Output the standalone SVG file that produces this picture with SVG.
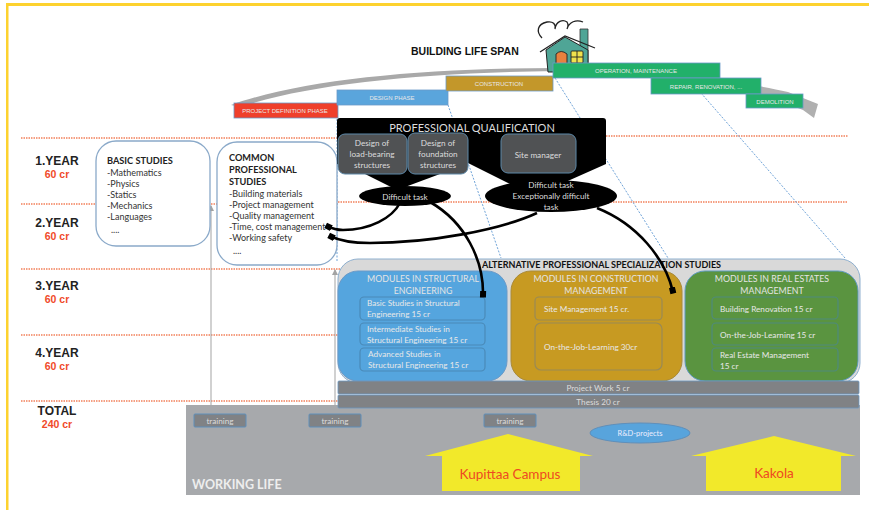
<svg xmlns="http://www.w3.org/2000/svg" width="869" height="510" viewBox="0 0 869 510">
<style>
text{font-family:Lato,"Liberation Sans",sans-serif}
.yr{font-family:"Liberation Sans",Arial,sans-serif;font-weight:700;font-size:12px;fill:#222;text-anchor:middle}
.cr{font-family:"Liberation Sans",Arial,sans-serif;font-weight:700;font-size:10.5px;fill:#f04a2a;text-anchor:middle}
.dot{stroke:#f2805a;stroke-width:1.5;stroke-dasharray:1.5 1;fill:none}
.blue{stroke:#6fa3d8;stroke-width:1;stroke-dasharray:2 1.5;fill:none}
.ph{stroke:#6a9ac8;stroke-width:.8}
.pt{font-size:6px;fill:#e8e8e8;text-anchor:middle;font-family:"Liberation Sans",sans-serif}
.study{fill:#fff;stroke:#8aa9c9;stroke-width:1.3}
.st{font-size:9px;fill:#333}
.sb{font-size:9.2px;fill:#222;font-weight:700}
.gbox{fill:#505254;stroke:#5d88a8;stroke-width:1}
.wt{font-size:8.2px;fill:#dcdcdc;text-anchor:middle}
.mt{font-size:8.8px;fill:#e4e4e4;text-anchor:middle}
.mod{stroke-width:1.2;fill:none}
.mm{font-size:8.2px;fill:#e8e8e8}
.bar{fill:#808285;stroke:#6b97c2;stroke-width:.8}
.tr{fill:#808285;stroke:#5f8fba;stroke-width:1}
.curve{fill:none;stroke:#000;stroke-width:2.6;marker-end:url(#blk)}
.garrow{fill:none;stroke:#a3a3a3;stroke-width:1;marker-end:url(#gry)}
.camp{fill:#f2e92a}
.ct{font-size:13.5px;fill:#ee4a22;text-anchor:middle}
</style>
<defs>
<marker id="blk" markerUnits="userSpaceOnUse" markerWidth="7" markerHeight="7" refX="5" refY="3.500" orient="auto"><path d="M0 .5H6.500V6.500H0Z" fill="#000"/></marker>
<marker id="gry" markerWidth="6" markerHeight="6" refX="5" refY="3" orient="auto"><path d="M0 0L6 3L0 6Z" fill="#a3a3a3"/></marker>
</defs>
<rect width="869" height="510" fill="#fff"/>
<g id="frame" fill="#fdd22f"><rect x="6" y="3" width="863" height="3"/><rect x="6" y="3" width="2.500" height="507"/></g>

<g id="grid">
<path class="dot" d="M21 138H338M606 136H848"/>
<path class="dot" d="M21 204H338M338 202H848"/>
<path class="dot" d="M21 269H340"/>
<path class="dot" d="M21 335H340"/>
<path class="dot" d="M21 401H340"/>
</g>

<g id="swoosh"><path d="M231 105C300 80 420 68 556 68L556 71C420 73 310 84 240 107Z" fill="#a9a9a9"/><path d="M720 80C745 83 770 88 788 92L818 104L814 118L803 110C780 101 745 92 720 88Z" fill="#b0b0b0"/></g>

<g id="years">
<text class="yr" x="57" y="165">1.YEAR</text><text class="cr" x="57" y="178">60 cr</text>
<text class="yr" x="57" y="227">2.YEAR</text><text class="cr" x="57" y="240">60 cr</text>
<text class="yr" x="57" y="290">3.YEAR</text><text class="cr" x="57" y="303">60 cr</text>
<text class="yr" x="57" y="357">4.YEAR</text><text class="cr" x="57" y="370">60 cr</text>
<text class="yr" x="57" y="415">TOTAL</text><text class="cr" x="57" y="428">240 cr</text>
</g>

<text id="title" x="411" y="55" style="font-family:'Liberation Sans',sans-serif" font-size="10.500" font-weight="700" fill="#111">BUILDING LIFE SPAN</text>

<g id="connectors">
<path class="blue" d="M337 105V262M448 105L501 258M555 78L668 258M701 93L845 258"/>
<path class="garrow" d="M211 405V206"/>
<path class="garrow" d="M335 405V270"/>
<path d="M510 381V262" stroke="#a3a3a3" stroke-width=".8" fill="none"/>
</g>

<g id="house">
<path d="M542 38C536 32 537 24 547 22C553 21 556 24 555 29C556 21 563 19 567 22C569 25 568 27 567 29C569 22 576 19 583 22" fill="none" stroke="#222" stroke-width="1.300"/>
<path d="M580 29H588V72H580Z" fill="#4fa596" stroke="#333" stroke-width=".8"/>
<path d="M546 50L565 37L588 50V72H548Z" fill="#4fa596" stroke="#222" stroke-width="1"/>
<path d="M540 52L565 36L595 48" fill="none" stroke="#222" stroke-width="1.300"/>
<path d="M556 71V54Q561 49 567 54V71Z" fill="#e8813e" stroke="#222" stroke-width=".9"/>
<rect x="571" y="51" width="12" height="12" rx="1" fill="#f0e24d" stroke="#222" stroke-width=".9"/>
<path d="M577 51V63M571 57H583" stroke="#222" stroke-width=".9"/>
</g>

<g id="phases">
<g id="p-definition"><rect class="ph" x="234" y="103" width="104" height="15" fill="#ef3f2b"/><text class="pt" x="285" y="113">PROJECT DEFINITION PHASE</text></g>
<g id="p-design"><rect class="ph" x="337" y="90" width="111" height="15" fill="#5aa5dc"/><text class="pt" x="392" y="100">DESIGN PHASE</text></g>
<g id="p-construction"><rect class="ph" x="446" y="76" width="107" height="15" fill="#c3972a"/><text class="pt" x="499" y="86">CONSTRUCTION</text></g>
<g id="p-operation"><rect class="ph" x="553" y="63" width="167" height="15" fill="#22b06a"/><text class="pt" x="636" y="73">OPERATION, MAINTENANCE</text></g>
<g id="p-repair"><rect class="ph" x="651" y="78" width="110" height="16" fill="#22b06a"/><text class="pt" x="706" y="89">REPAIR, RENOVATION, ...</text></g>
<g id="p-demolition"><rect class="ph" x="746" y="94" width="57" height="14" fill="#22b06a"/><text class="pt" x="775" y="104">DEMOLITION</text></g>
</g>

<g id="basic-studies"><rect class="study" x="96" y="141" width="114" height="105" rx="20"/>
<text x="107" y="164" class="sb">BASIC STUDIES</text>
<text x="107" y="176" class="st">-Mathematics</text><text x="107" y="187" class="st">-Physics</text><text x="107" y="198" class="st">-Statics</text><text x="107" y="209" class="st">-Mechanics</text><text x="107" y="220" class="st">-Languages</text><text x="111" y="233" class="st">....</text></g>

<g id="common-studies"><rect class="study" x="217" y="142" width="120" height="123" rx="20"/>
<text x="229" y="161" class="sb">COMMON</text><text x="229" y="173" class="sb">PROFESSIONAL</text><text x="229" y="185" class="sb">STUDIES</text>
<text x="229" y="197" class="st">-Building materials</text><text x="229" y="208" class="st">-Project management</text><text x="229" y="219" class="st">-Quality management</text><text x="229" y="230" class="st">-Time, cost management</text><text x="229" y="241" class="st">-Working safety</text><text x="233" y="254" class="st">....</text></g>

<g id="qualification">
<path d="M337 121Q337 118 340 118H603Q606 118 606 121V164L561 184L510 184L468 163L440 174L397 190L365 174L337 164Z" fill="#000"/>
<text x="472" y="132" fill="#ddd" text-anchor="middle" style="font-size:11px">PROFESSIONAL QUALIFICATION</text>
</g>
<g id="q-load"><rect class="gbox" x="338" y="134" width="69" height="40" rx="7"/><text class="wt" x="372" y="146">Design of</text><text class="wt" x="372" y="157">load-bearing</text><text class="wt" x="372" y="168">structures</text></g>
<g id="q-found"><rect class="gbox" x="408" y="133" width="60" height="41" rx="7"/><text class="wt" x="438" y="146">Design of</text><text class="wt" x="438" y="157">foundation</text><text class="wt" x="438" y="168">structures</text></g>
<g id="q-site"><rect class="gbox" x="501" y="134" width="75" height="39" rx="7"/><text class="wt" x="538" y="158">Site manager</text></g>
<g id="task1"><ellipse cx="405" cy="196" rx="46" ry="10" fill="#000"/><text class="wt" x="405" y="200">Difficult task</text></g>
<g id="task2"><ellipse cx="551" cy="196" rx="66" ry="16" fill="#000"/><text class="wt" x="551" y="188">Difficult task</text><text class="wt" x="551" y="199">Exceptionally difficult</text><text class="wt" x="551" y="210">task</text></g>

<g id="specialization"><rect x="338" y="259" width="522" height="124" rx="20" fill="#d9d9d9" stroke="#8fb0cf" stroke-width="1"/>
<text x="482" y="268" font-weight="700" fill="#111" style="font-size:9px">ALTERNATIVE PROFESSIONAL SPECIALIZATION STUDIES</text></g>

<g id="m-structural"><rect x="338" y="271" width="169" height="110" rx="20" fill="#55a5de" stroke="#6a9ac8"/>
<text class="mt" x="423" y="282">MODULES IN STRUCTURAL</text><text class="mt" x="423" y="294">ENGINEERING</text>
<rect class="mod" x="360" y="297" width="125" height="23" rx="4" stroke="#4a8ab8"/><text class="mm" x="367" y="306">Basic Studies in Structural</text><text class="mm" x="367" y="317">Engineering 15 cr</text>
<rect class="mod" x="360" y="323" width="125" height="22" rx="4" stroke="#4a8ab8"/><text class="mm" x="367" y="332">Intermediate Studies in</text><text class="mm" x="367" y="343">Structural Engineering 15 cr</text>
<rect class="mod" x="360" y="348" width="125" height="23" rx="4" stroke="#4a8ab8"/><text class="mm" x="368" y="357">Advanced Studies in</text><text class="mm" x="368" y="368">Structural Engineering 15 cr</text></g>

<g id="m-construction"><rect x="511" y="271" width="171" height="110" rx="20" fill="#c79a22" stroke="#a98a3a"/>
<text class="mt" x="596" y="282">MODULES IN CONSTRUCTION</text><text class="mt" x="596" y="294">MANAGEMENT</text>
<rect class="mod" x="535" y="297" width="127" height="23" rx="4" stroke="#9a8a55"/><text class="mm" x="544" y="312">Site Management 15 cr.</text>
<rect class="mod" x="535" y="323" width="127" height="47" rx="6" stroke="#9a8a55"/><text class="mm" x="544" y="350">On-the-Job-Learning 30cr</text></g>

<g id="m-realestate"><rect x="685" y="271" width="173" height="110" rx="20" fill="#5a9440" stroke="#5f9ac0"/>
<text class="mt" x="772" y="282">MODULES IN REAL ESTATES</text><text class="mt" x="772" y="294">MANAGEMENT</text>
<rect class="mod" x="712" y="297" width="126" height="22" rx="4" stroke="#4f8a7c"/><text class="mm" x="720" y="312">Building Renovation 15 cr</text>
<rect class="mod" x="712" y="323" width="126" height="22" rx="4" stroke="#4f8a7c"/><text class="mm" x="720" y="338">On-the-Job-Learning 15 cr</text>
<rect class="mod" x="712" y="348" width="126" height="23" rx="4" stroke="#4f8a7c"/><text class="mm" x="720" y="358">Real Estate Management</text><text class="mm" x="720" y="369">15 cr</text></g>

<g id="working-life"><rect x="186" y="405" width="674" height="90" fill="#a7a9ac"/>
<text x="192" y="489" font-size="12.500" font-weight="700" fill="#eee">WORKING LIFE</text></g>
<g id="project-work"><rect class="bar" x="338" y="381" width="521" height="13" rx="1"/><text class="wt" x="598" y="391">Project Work 5 cr</text></g>
<g id="thesis"><rect class="bar" x="338" y="395" width="521" height="13" rx="1"/><text class="wt" x="598" y="405">Thesis 20 cr</text></g>
<g id="training1"><rect class="tr" x="194" y="414" width="52" height="13" rx="1"/><text class="wt" x="220" y="424">training</text></g>
<g id="training2"><rect class="tr" x="309" y="414" width="52" height="13" rx="1"/><text class="wt" x="335" y="424">training</text></g>
<g id="training3"><rect class="tr" x="484" y="414" width="52" height="13" rx="1"/><text class="wt" x="510" y="424">training</text></g>
<g id="rd"><ellipse cx="640" cy="433" rx="50" ry="10" fill="#58a4dc" stroke="#5f8fba"/><text x="640" y="436" fill="#eef" text-anchor="middle" style="font-size:7.5px">R&amp;D-projects</text></g>
<g id="kupittaa"><path class="camp" d="M508 434L593 456H580V491H442V456H425Z"/><text class="ct" x="510" y="479">Kupittaa Campus</text></g>
<g id="kakola"><path class="camp" d="M774 436L856 456H841V491H706V456H691Z"/><text class="ct" x="774" y="478">Kakola</text></g>

<g id="task-connectors">
<path class="curve" d="M400 203C392 218 370 230 343 230C336 230 331 228 327 226"/>
<path class="curve" d="M537 213C500 230 430 243 370 243C350 243 338 240 330 236"/>
<path class="curve" d="M430 202C465 222 484 260 483 296"/>
<path class="curve" d="M597 208C637 224 665 258 673 292"/>
</g>
</svg>
